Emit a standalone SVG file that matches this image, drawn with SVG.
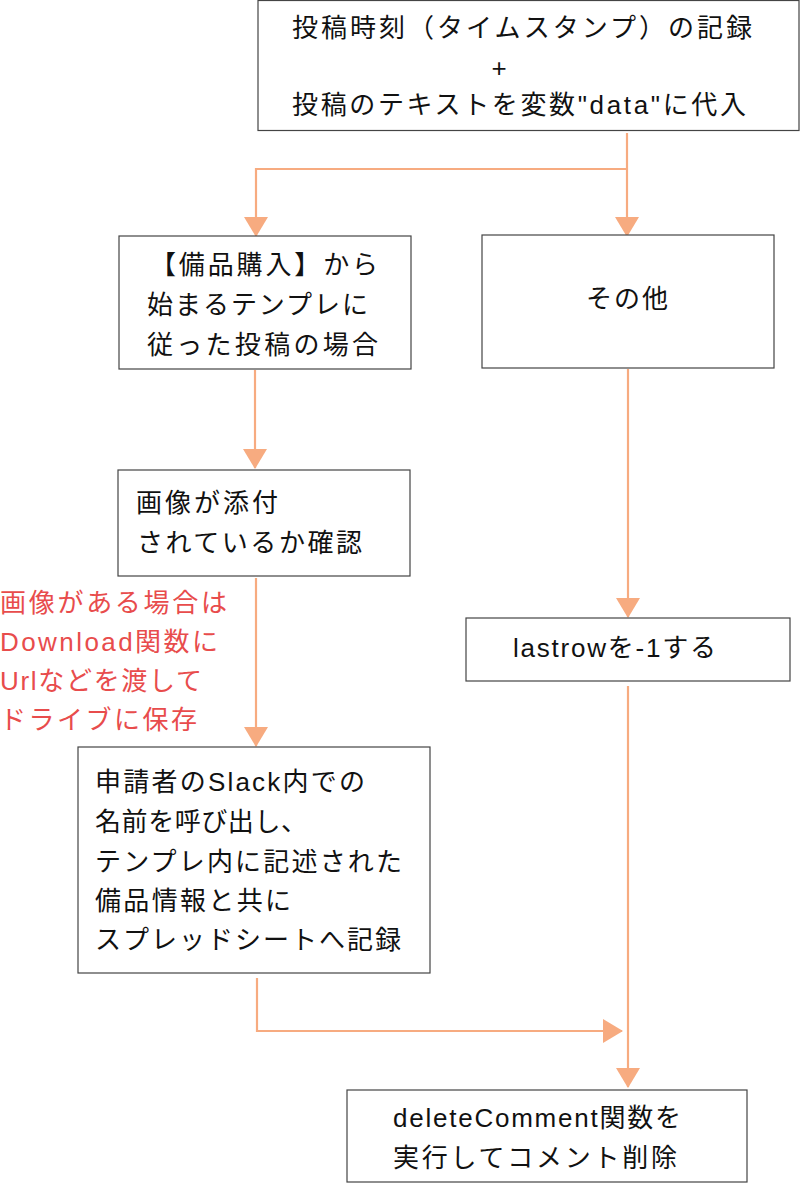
<svg xmlns="http://www.w3.org/2000/svg" width="800" height="1183" viewBox="0 0 800 1183">
<defs>
<marker id="ah" markerWidth="20" markerHeight="24" refX="19" refY="12" orient="auto" markerUnits="userSpaceOnUse" viewBox="0 0 20 24">
<path d="M0,0 L20,12 L0,24 Z" fill="#f7ab80"/>
</marker>
<style>
.box{fill:#fff;stroke:#444;stroke-width:1.2}
.t{font-family:"Liberation Sans","Noto Sans CJK JP",sans-serif;font-size:26px;fill:#111}
.red{font-family:"Liberation Sans","Noto Sans CJK JP",sans-serif;font-size:26px;fill:#e84c4c}
.c{fill:none;stroke:#f7ab80;stroke-width:2.2}
</style>
</defs>
<g id="connectors">
<path class="c" d="M627,133 V236" marker-end="url(#ah)"/>
<path class="c" d="M627,169 H256 V236" marker-end="url(#ah)"/>
<path class="c" d="M255,370 V468" marker-end="url(#ah)"/>
<path class="c" d="M256,578 V746" marker-end="url(#ah)"/>
<path class="c" d="M628,369 V617" marker-end="url(#ah)"/>
<path class="c" d="M628,686 V1087" marker-end="url(#ah)"/>
<path class="c" d="M257,978 V1031 H622" marker-end="url(#ah)"/>
</g>
<g id="n1">
<rect class="box" x="258" y="0.5" width="541" height="130"/>
<text class="t" x="292" y="37" textLength="460" lengthAdjust="spacing">投稿時刻（タイムスタンプ）の記録</text>
<text class="t" text-anchor="middle" x="499" y="77">+</text>
<text class="t" x="292" y="114" textLength="454" lengthAdjust="spacing">投稿のテキストを変数"data"に代入</text>
</g>
<g id="n2">
<rect class="box" x="119" y="236" width="292" height="133"/>
<text class="t" x="150" y="274" textLength="228" lengthAdjust="spacing">【備品購入】から</text>
<text class="t" x="147" y="314" textLength="221" lengthAdjust="spacing">始まるテンプレに</text>
<text class="t" x="147" y="354" textLength="231" lengthAdjust="spacing">従った投稿の場合</text>
</g>
<g id="n3">
<rect class="box" x="482" y="235" width="292" height="133"/>
<text class="t" x="586" y="308" textLength="82" lengthAdjust="spacing">その他</text>
</g>
<g id="n4">
<rect class="box" x="118" y="470" width="292" height="106"/>
<text class="t" x="136" y="512" textLength="142" lengthAdjust="spacing">画像が添付</text>
<text class="t" x="137" y="552" textLength="225" lengthAdjust="spacing">されているか確認</text>
</g>
<g id="note">
<text class="red" x="0" y="612" textLength="227" lengthAdjust="spacing">画像がある場合は</text>
<text class="red" x="0" y="651" textLength="218" lengthAdjust="spacing">Download関数に</text>
<text class="red" x="0" y="690" textLength="202" lengthAdjust="spacing">Urlなどを渡して</text>
<text class="red" x="0" y="729" textLength="197" lengthAdjust="spacing">ドライブに保存</text>
</g>
<g id="n5">
<rect class="box" x="78" y="747" width="352" height="226"/>
<text class="t" x="95" y="791" textLength="270" lengthAdjust="spacing">申請者のSlack内での</text>
<text class="t" x="95" y="831" textLength="212" lengthAdjust="spacing">名前を呼び出し、</text>
<text class="t" x="95" y="871" textLength="307" lengthAdjust="spacing">テンプレ内に記述された</text>
<text class="t" x="95" y="910" textLength="196" lengthAdjust="spacing">備品情報と共に</text>
<text class="t" x="95" y="949" textLength="306" lengthAdjust="spacing">スプレッドシートへ記録</text>
</g>
<g id="n6">
<rect class="box" x="466" y="618" width="324" height="63"/>
<text class="t" x="513" y="657" textLength="203" lengthAdjust="spacing">lastrowを-1する</text>
</g>
<g id="n7">
<rect class="box" x="347" y="1090" width="400" height="92"/>
<text class="t" x="393" y="1127" textLength="288" lengthAdjust="spacing">deleteComment関数を</text>
<text class="t" x="393" y="1167" textLength="284" lengthAdjust="spacing">実行してコメント削除</text>
</g>
</svg>
